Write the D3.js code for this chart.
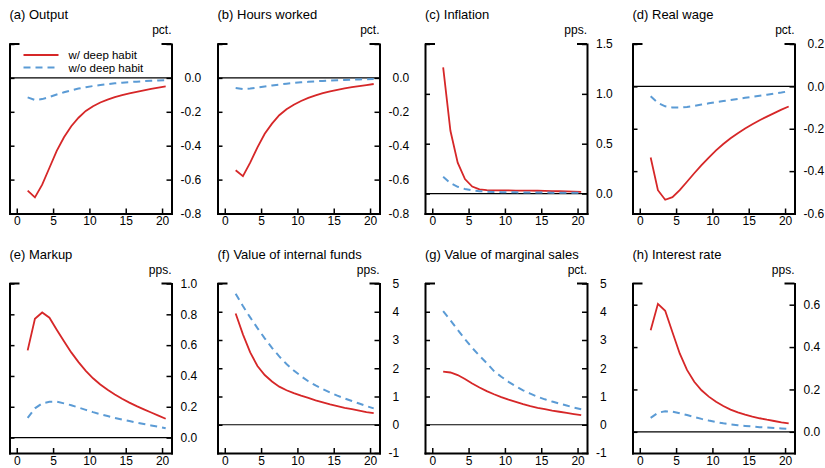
<!DOCTYPE html>
<html lang="en">
  <head>
    <meta charset="UTF-8" />
    <title>deep habit responses</title>
    <style>
      body {
        margin: 0;
        background: #fff;
      }
      svg {
        display: block;
        font-family: "Liberation Sans", Arial, sans-serif;
      }
      .title {
        font-size: 13px;
      }
      .unit,
      .tick text {
        font-size: 12px;
      }
      .legend text {
        font-size: 11.5px;
      }
    </style>
  </head>

  <body>
    <div class="container"></div>

    <script src="https://d3js.org/d3.v7.min.js"></script>
    <script>
      // quarters after the shock (plotted mid-period)
      const periods = [1.5, 2.5, 3.5, 4.5, 5.5, 6.5, 7.5, 8.5, 9.5, 10.5,
        11.5, 12.5, 13.5, 14.5, 15.5, 16.5, 17.5, 18.5, 19.5, 20.5];
      const xTicks = [0, 5, 10, 15, 20];
      const seriesNames = ["w/ deep habit", "w/o deep habit"];

      // (a) output
      const outputHabit = [-0.665, -0.705, -0.63, -0.53, -0.43, -0.35, -0.285, -0.235, -0.195, -0.167,
        -0.145, -0.128, -0.114, -0.102, -0.092, -0.082, -0.073, -0.065, -0.057, -0.05];
      const outputNoHabit = [-0.115, -0.13, -0.125, -0.112, -0.098, -0.085, -0.073, -0.063, -0.055, -0.048,
        -0.042, -0.037, -0.032, -0.028, -0.025, -0.022, -0.019, -0.017, -0.015, -0.013];
      // (b) hours worked
      const hoursHabit = [-0.545, -0.58, -0.5, -0.41, -0.33, -0.27, -0.22, -0.185, -0.158, -0.136,
        -0.118, -0.103, -0.09, -0.079, -0.07, -0.062, -0.055, -0.048, -0.042, -0.036];
      const hoursNoHabit = [-0.06, -0.066, -0.063, -0.057, -0.051, -0.045, -0.039, -0.034, -0.03, -0.026,
        -0.023, -0.02, -0.018, -0.016, -0.014, -0.012, -0.01, -0.009, -0.008, -0.007];
      // (c) inflation
      const inflationHabit = [1.265, 0.63, 0.31, 0.145, 0.07, 0.042, 0.034, 0.032, 0.031, 0.031,
        0.03, 0.03, 0.029, 0.028, 0.027, 0.025, 0.023, 0.021, 0.019, 0.017];
      const inflationNoHabit = [0.168, 0.105, 0.068, 0.046, 0.032, 0.024, 0.019, 0.016, 0.014, 0.013,
        0.012, 0.011, 0.011, 0.01, 0.01, 0.009, 0.009, 0.009, 0.008, 0.008];
      // (d) real wage
      const wageHabit = [-0.336, -0.49, -0.535, -0.523, -0.49, -0.45, -0.41, -0.372, -0.336, -0.302,
        -0.272, -0.245, -0.221, -0.199, -0.179, -0.16, -0.143, -0.126, -0.11, -0.095];
      const wageNoHabit = [-0.047, -0.078, -0.094, -0.1, -0.1, -0.097, -0.092, -0.086, -0.08, -0.074,
        -0.069, -0.064, -0.059, -0.054, -0.049, -0.044, -0.039, -0.034, -0.029, -0.023];
      // (e) markup
      const markupHabit = [0.566, 0.771, 0.812, 0.778, 0.7, 0.625, 0.553, 0.49, 0.433, 0.385,
        0.345, 0.31, 0.28, 0.252, 0.227, 0.204, 0.183, 0.163, 0.143, 0.122];
      const markupNoHabit = [0.128, 0.19, 0.222, 0.232, 0.233, 0.222, 0.21, 0.195, 0.18, 0.165,
        0.152, 0.14, 0.128, 0.117, 0.107, 0.097, 0.088, 0.079, 0.07, 0.06];
      // (f) value of internal funds
      const fundsHabit = [3.94, 3.2, 2.56, 2.08, 1.76, 1.53, 1.35, 1.22, 1.12, 1.03,
        0.95, 0.86, 0.79, 0.72, 0.66, 0.6, 0.55, 0.5, 0.45, 0.41];
      const fundsNoHabit = [4.64, 4.2, 3.8, 3.42, 3.06, 2.72, 2.42, 2.15, 1.92, 1.72,
        1.54, 1.39, 1.26, 1.14, 1.03, 0.93, 0.84, 0.75, 0.66, 0.58];
      // (g) value of marginal sales
      const salesHabit = [1.88, 1.85, 1.76, 1.62, 1.46, 1.32, 1.19, 1.08, 0.98, 0.89,
        0.81, 0.73, 0.66, 0.6, 0.55, 0.5, 0.46, 0.42, 0.38, 0.34];
      const salesNoHabit = [4.02, 3.7, 3.36, 3.03, 2.72, 2.44, 2.18, 1.9, 1.7, 1.52,
        1.36, 1.22, 1.1, 0.99, 0.9, 0.82, 0.75, 0.68, 0.61, 0.55];
      // (h) interest rate
      const rateHabit = [0.479, 0.604, 0.571, 0.47, 0.37, 0.292, 0.236, 0.196, 0.166, 0.142,
        0.122, 0.105, 0.092, 0.081, 0.072, 0.064, 0.057, 0.051, 0.045, 0.04];
      const rateNoHabit = [0.066, 0.09, 0.097, 0.095, 0.088, 0.079, 0.07, 0.061, 0.053, 0.046,
        0.04, 0.035, 0.031, 0.028, 0.025, 0.022, 0.02, 0.018, 0.016, 0.014];

      // panel settings: domain, tick marks, labelled ticks
      const panels = [
        { title: "(a) Output", unit: "pct.", y: [-0.8, 0.2], ticks: [-0.8, -0.6, -0.4, -0.2, 0, 0.2],
          labels: [-0.8, -0.6, -0.4, -0.2, 0], dec: 1, data: [outputHabit, outputNoHabit], legend: true },
        { title: "(b) Hours worked", unit: "pct.", y: [-0.8, 0.2], ticks: [-0.8, -0.6, -0.4, -0.2, 0, 0.2],
          labels: [-0.8, -0.6, -0.4, -0.2, 0], dec: 1, data: [hoursHabit, hoursNoHabit] },
        { title: "(c) Inflation", unit: "pps.", y: [-0.2, 1.5], ticks: [0, 0.5, 1, 1.5],
          labels: [0, 0.5, 1, 1.5], dec: 1, data: [inflationHabit, inflationNoHabit] },
        { title: "(d) Real wage", unit: "pct.", y: [-0.6, 0.2], ticks: [-0.6, -0.4, -0.2, 0, 0.2],
          labels: [-0.6, -0.4, -0.2, 0, 0.2], dec: 1, data: [wageHabit, wageNoHabit] },
        { title: "(e) Markup", unit: "pps.", y: [-0.1, 1.0], ticks: [0, 0.2, 0.4, 0.6, 0.8, 1.0],
          labels: [0, 0.2, 0.4, 0.6, 0.8, 1.0], dec: 1, data: [markupHabit, markupNoHabit] },
        { title: "(f) Value of internal funds", unit: "pps.", y: [-1, 5], ticks: [-1, 0, 1, 2, 3, 4, 5],
          labels: [-1, 0, 1, 2, 3, 4, 5], dec: 0, data: [fundsHabit, fundsNoHabit] },
        { title: "(g) Value of marginal sales", unit: "pct.", y: [-1, 5], ticks: [-1, 0, 1, 2, 3, 4, 5],
          labels: [-1, 0, 1, 2, 3, 4, 5], dec: 0, data: [salesHabit, salesNoHabit] },
        { title: "(h) Interest rate", unit: "pps.", y: [-0.1, 0.7], ticks: [0, 0.2, 0.4, 0.6],
          labels: [0, 0.2, 0.4, 0.6], dec: 1, data: [rateHabit, rateNoHabit] },
      ];

      const colors = ["#d62728", "#5b9bd5"];
      const colLeft = [9.5, 217.5, 425, 632.5];
      const rowTop = [44, 283.5];
      const pw = 162,
        ph = 169.5;

      const svg = d3.select(".container").append("svg");
      svg.attr("width", 825).attr("height", 468);

      panels.forEach((p, i) => {
        const g = svg
          .append("g")
          .attr("transform", `translate(${colLeft[i % 4]},${rowTop[Math.floor(i / 4)]})`);

        const x = d3.scaleLinear().domain([-1, 21.3]).range([0, pw]);
        const y = d3.scaleLinear().domain(p.y).range([ph, 0]);
        const fmt = (v) => (p.labels.includes(v) ? v.toFixed(p.dec) : "");

        // zero line
        g.append("line")
          .attr("x1", 0)
          .attr("x2", pw)
          .attr("y1", y(0))
          .attr("y2", y(0))
          .attr("stroke", "#000")
          .attr("stroke-width", 1.2);

        // series
        p.data.forEach((vals, k) => {
          const line = d3
            .line()
            .x((d, j) => x(periods[j]))
            .y((d) => y(d));
          g.append("path")
            .datum(vals)
            .attr("fill", "none")
            .attr("stroke", colors[k])
            .attr("stroke-width", k === 0 ? 1.8 : 2)
            .attr("stroke-dasharray", k === 0 ? null : "7,5")
            .attr("d", line);
        });

        // left spine, ticks inward
        g.append("g")
          .attr("class", "axis")
          .call(d3.axisRight(y).tickValues(p.ticks).tickSizeInner(5).tickSizeOuter(0).tickFormat(""));

        // right spine, ticks inward, labels right-aligned
        const ra = g
          .append("g")
          .attr("class", "axis")
          .attr("transform", `translate(${pw},0)`)
          .call(d3.axisRight(y).tickValues(p.ticks).tickSizeInner(-5).tickSizeOuter(0).tickFormat(fmt));
        let wMax = 0;
        ra.selectAll(".tick text").each(function () {
          wMax = Math.max(wMax, this.getComputedTextLength());
        });
        ra.selectAll(".tick text")
          .attr("text-anchor", "end")
          .attr("x", 9 + wMax);

        // bottom axis
        g.append("g")
          .attr("class", "axis")
          .attr("transform", `translate(0,${ph})`)
          .call(d3.axisBottom(x).tickValues(xTicks).tickSizeInner(-5).tickSizeOuter(0).tickPadding(3));

        // top corner stubs
        [[0, 10], [pw - 10, pw]].forEach((s) => {
          g.append("line")
            .attr("x1", s[0])
            .attr("x2", s[1])
            .attr("y1", 0)
            .attr("y2", 0)
            .attr("stroke", "#000")
            .attr("stroke-width", 2);
        });

        g.append("text").attr("class", "title").attr("x", 0).attr("y", -25).text(p.title);
        g.append("text")
          .attr("class", "unit")
          .attr("x", pw)
          .attr("y", -10)
          .attr("text-anchor", "end")
          .text(p.unit);

        if (p.legend) {
          const lg = g.append("g").attr("class", "legend");
          seriesNames.forEach((name, k) => {
            lg.append("line")
              .attr("x1", 14)
              .attr("x2", 49)
              .attr("y1", 11 + k * 12.5)
              .attr("y2", 11 + k * 12.5)
              .attr("stroke", colors[k])
              .attr("stroke-width", 2)
              .attr("stroke-dasharray", k === 0 ? null : "7,5");
            lg.append("text")
              .attr("x", 59)
              .attr("y", 15 + k * 12.5)
              .text(name);
          });
        }
      });

      svg.selectAll(".axis .domain").attr("stroke-width", 2).attr("stroke-linecap", "square");
      svg.selectAll(".axis .tick line").attr("stroke-width", 1.5);
      svg.selectAll(".axis .tick text").attr("fill", "#000");
    </script>
  </body>
</html>
